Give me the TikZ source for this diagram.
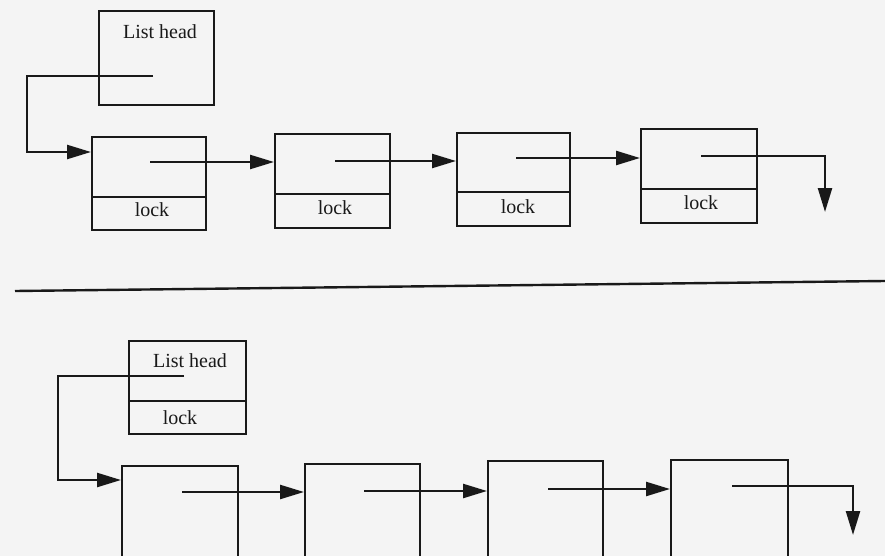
\documentclass[tikz,border=0pt]{standalone}
\usepackage{fontspec}
\setmainfont{Liberation Serif}
\usetikzlibrary{arrows.meta}
\definecolor{ink}{gray}{0.1}
\definecolor{paper}{gray}{0.955}
\begin{document}
\begin{tikzpicture}[x=1pt,y=-1pt,
  box/.style={draw=ink,line width=2pt,rectangle,inner sep=0pt,anchor=north west},
  lbl/.style={font=\fontsize{20}{22}\selectfont,text=ink,inner sep=0pt},
  ptr/.style={draw=ink,line width=2.4pt,-{Triangle[length=24pt,width=14pt]}},
  divline/.style={draw=ink,line width=2pt}]
\useasboundingbox (0,0) rectangle (885,556);
\fill[paper] (0,0) rectangle (885,556);
\clip (0,0) rectangle (885,556);

% ---------- top list ----------
\node[box,minimum width=115pt,minimum height=94pt] (h1) at (98,10) {};
\node[lbl] (h1t) at (160,32) {List head};

\node[box,minimum width=114pt,minimum height=93pt] (b1) at (91,136) {};
\node[box,minimum width=115pt,minimum height=94pt] (b2) at (274,133) {};
\node[box,minimum width=113pt,minimum height=93pt] (b3) at (456,132) {};
\node[box,minimum width=116pt,minimum height=94pt] (b4) at (640,128) {};

\draw[divline] (b1.west |- 0,197) -- (b1.east |- 0,197);
\draw[divline] (b2.west |- 0,194) -- (b2.east |- 0,194);
\draw[divline] (b3.west |- 0,192) -- (b3.east |- 0,192);
\draw[divline] (b4.west |- 0,189) -- (b4.east |- 0,189);

\node[lbl] (l1) at (152,210) {lock};
\node[lbl] (l2) at (335,208) {lock};
\node[lbl] (l3) at (518,207) {lock};
\node[lbl] (l4) at (701,203) {lock};

\coordinate (s0) at (153,76);
\coordinate (s1) at (150,162);
\coordinate (s2) at (335,161);
\coordinate (s3) at (516,158);
\coordinate (s4) at (701,156);
\coordinate (e4) at (825,212);

\draw[ptr] (s0) -- (27,76) -- (27,152) -- (b1.west |- 0,152);
\draw[ptr] (s1) -- (b2.west |- s1);
\draw[ptr] (s2) -- (b3.west |- s2);
\draw[ptr] (s3) -- (b4.west |- s3);
\draw[ptr] (s4) -- (e4 |- s4) -- (e4);

% ---------- separator ----------
\coordinate (r0) at (15,291);
\coordinate (r1) at (885,281);
\draw[ink,line width=2.4pt] (r0) -- (r1);

% ---------- bottom list ----------
\node[box,minimum width=117pt,minimum height=93pt] (h2) at (128,340) {};
\draw[divline] (h2.west |- 0,401) -- (h2.east |- 0,401);
\node[lbl] (h2t) at (190,361) {List head};
\node[lbl] (h2l) at (180,418) {lock};

\node[box,minimum width=116pt,minimum height=130pt] (c1) at (121,465) {};
\node[box,minimum width=115pt,minimum height=130pt] (c2) at (304,463) {};
\node[box,minimum width=115pt,minimum height=130pt] (c3) at (487,460) {};
\node[box,minimum width=117pt,minimum height=130pt] (c4) at (670,459) {};

\coordinate (t0) at (184,376);
\coordinate (t1) at (182,492);
\coordinate (t2) at (364,491);
\coordinate (t3) at (548,489);
\coordinate (t4) at (732,486);
\coordinate (f4) at (853,535);

\draw[ptr] (t0) -- (58,376) -- (58,480) -- (c1.west |- 0,480);
\draw[ptr] (t1) -- (c2.west |- t1);
\draw[ptr] (t2) -- (c3.west |- t2);
\draw[ptr] (t3) -- (c4.west |- t3);
\draw[ptr] (t4) -- (f4 |- t4) -- (f4);
\end{tikzpicture}
\end{document}
